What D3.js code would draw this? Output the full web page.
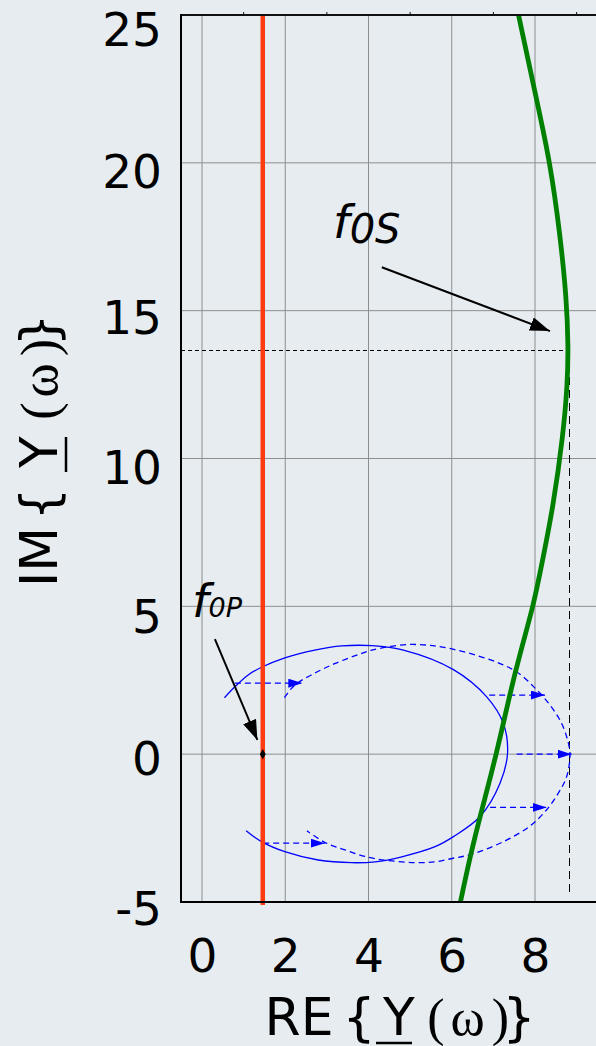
<!DOCTYPE html>
<html><head><meta charset="utf-8">
<script src="https://cdn.jsdelivr.net/npm/d3@7"></script>
<style>html,body{margin:0;padding:0;background:#e6ecef;}svg{display:block}</style>
</head><body><svg id="c" width="596" height="1046"></svg>
<script>
// ---- data ----
const xTicks = [0, 2, 4, 6, 8];
const xMinorTicks = [1, 3, 5, 7, 9];
const yTicks = [-5, 0, 5, 10, 15, 20, 25];
const redRe = 1.46;                       // parallel resonance line Re{Y}
const greenIm = [25.03, 22.12, 20.04, 17.62, 15.37, 13.78, 12.54, 10.85, 8.37, 6.12, 5.02, 3.41, 2.06, 0.03, -2.11, -3.47, -4.99];
const greenRe = [7.60, 8.04, 8.36, 8.60, 8.76, 8.80, 8.78, 8.68, 8.44, 8.12, 7.96, 7.64, 7.40, 7.08, 6.68, 6.44, 6.21];
const solidRe = [0.54, 0.79, 1.11, 1.43, 1.99, 2.71, 3.36, 4.08, 4.84, 6.04, 6.84, 7.24, 7.34, 7.16, 6.68, 6.04, 5.60, 4.80, 4.16, 3.60, 2.79, 1.99, 1.43, 1.06];
const solidIm = [1.91, 2.28, 2.68, 2.94, 3.26, 3.52, 3.66, 3.67, 3.52, 2.86, 1.94, 1.04, 0.03, -0.98, -2.11, -2.79, -3.13, -3.47, -3.64, -3.67, -3.58, -3.30, -2.96, -2.59];
const dashRe = [1.98, 2.23, 2.71, 3.20, 3.84, 4.08, 5.00, 6.03, 7.47, 8.04, 8.36, 8.60, 8.76, 8.84, 8.76, 8.56, 8.28, 7.88, 7.24, 6.44, 6.03, 5.60, 5.12, 4.56, 4.00, 3.44, 2.96, 2.52];
const dashIm = [1.91, 2.34, 2.74, 3.07, 3.41, 3.52, 3.71, 3.55, 2.86, 2.18, 1.66, 1.15, 0.59, 0.00, -0.76, -1.32, -1.88, -2.43, -2.96, -3.40, -3.52, -3.64, -3.67, -3.61, -3.49, -3.24, -2.99, -2.59];
const shiftIm = [2.40, 2.00, 0.00, -1.80, -3.01];
const shiftFromRe = [0.79, 6.90, 7.56, 6.92, 1.47];
const shiftToRe = [2.41, 8.24, 8.88, 8.28, 2.95];
const f0S = {re: 8.82, im: 13.65, bottom: -4.72};
const f0SArrow = {re0: 4.32, im0: 16.47, re1: 8.36, im1: 14.31};
const f0PArrow = {re0: 0.31, im0: 3.89, re1: 1.33, im1: 0.48};
const f0SLabel = {re: 3.15, im: 17.46};
const f0PLabel = {re: -0.24, im: 4.65};

// ---- style: vertical nudge (px) of y tick labels, as in the original ----
const yLabelNudge = {'-5': 6, '0': 3.5, '5': 10, '10': 8, '15': 6, '20': 8.5, '25': 13.5};

// ---- setup ----
const svg = d3.select('#c');
const x = d3.scaleLinear().domain([0, 8]).range([202, 535]);
const y = d3.scaleLinear().domain([-5, 25]).range([902, 15]);
const plotL = 181, plotR = 596, plotT = y(25), plotB = y(-5);
const SANS = 'DejaVu Sans, Verdana, sans-serif';
const SERIF = 'Liberation Serif, Times New Roman, serif';

svg.append('rect').attr('width', 596).attr('height', 1046).attr('fill', '#e6ecef');

const defs = svg.append('defs');
defs.append('clipPath').attr('id', 'clip').append('rect')
  .attr('x', plotL).attr('y', plotT).attr('width', plotR - plotL + 20).attr('height', plotB - plotT + 4);
defs.append('marker').attr('id', 'blueHead').attr('viewBox', '0 0 14 9')
  .attr('refX', 14).attr('refY', 4.5).attr('markerWidth', 14).attr('markerHeight', 9)
  .attr('markerUnits', 'userSpaceOnUse').attr('orient', 'auto')
  .append('path').attr('d', 'M0,0L14,4.5L0,9Z').attr('fill', '#0000ff');
defs.append('marker').attr('id', 'blackHead').attr('viewBox', '0 0 20 14')
  .attr('refX', 20).attr('refY', 7).attr('markerWidth', 20).attr('markerHeight', 14)
  .attr('markerUnits', 'userSpaceOnUse').attr('orient', 'auto')
  .append('path').attr('d', 'M0,0L20,7L0,14Z').attr('fill', '#000');

// ---- grid ----
const grid = svg.append('g');
grid.selectAll('.vg').data(xTicks).join('line')
  .attr('x1', d => x(d)).attr('x2', d => x(d)).attr('y1', plotT).attr('y2', plotB)
  .attr('stroke', '#8e8e8e').attr('stroke-width', 1);
grid.selectAll('.hg').data(yTicks.filter(d => d > -5 && d < 25)).join('line')
  .attr('x1', plotL).attr('x2', plotR).attr('y1', d => y(d)).attr('y2', d => y(d))
  .attr('stroke', '#8e8e8e').attr('stroke-width', 1);

const plot = svg.append('g').attr('clip-path', 'url(#clip)');

// dashed reference lines at f0S
plot.append('line').attr('x1', plotL).attr('x2', x(f0S.re)).attr('y1', y(f0S.im)).attr('y2', y(f0S.im))
  .attr('stroke', '#000').attr('stroke-width', 1).attr('stroke-dasharray', '4,3').attr('shape-rendering', 'crispEdges');
plot.append('line').attr('x1', x(f0S.re)).attr('x2', x(f0S.re)).attr('y1', y(f0S.im)).attr('y2', y(f0S.bottom))
  .attr('stroke', '#000').attr('stroke-width', 1).attr('stroke-dasharray', '8,5').attr('shape-rendering', 'crispEdges');

// blue locus curves
const blueLine = d3.line().x(d => x(d[0])).y(d => y(d[1])).curve(d3.curveCatmullRom.alpha(0.5));
plot.append('path').attr('d', blueLine(d3.zip(solidRe, solidIm)))
  .attr('fill', 'none').attr('stroke', '#0000ff').attr('stroke-width', 1.3);
plot.append('path').attr('d', blueLine(d3.zip(dashRe, dashIm)))
  .attr('fill', 'none').attr('stroke', '#0000ff').attr('stroke-width', 1.3).attr('stroke-dasharray', '6,4');
plot.selectAll('.shift').data(d3.range(shiftIm.length)).join('line')
  .attr('x1', i => x(shiftFromRe[i])).attr('x2', i => x(shiftToRe[i]))
  .attr('y1', i => y(shiftIm[i])).attr('y2', i => y(shiftIm[i]))
  .attr('stroke', '#0000ff').attr('stroke-width', 1.3).attr('stroke-dasharray', '6,4')
  .attr('marker-end', 'url(#blueHead)');

// red line
plot.append('line').attr('x1', x(redRe)).attr('x2', x(redRe)).attr('y1', y(25)).attr('y2', y(-5.1))
  .attr('stroke', '#ff3b0f').attr('stroke-width', 4.5);

// green curve
const greenLine = d3.line().x(d => x(d[0])).y(d => y(d[1])).curve(d3.curveBasis);
plot.append('path').attr('d', greenLine(d3.zip(greenRe, greenIm)))
  .attr('fill', 'none').attr('stroke', '#008000').attr('stroke-width', 4.8);

// diamond marker at f0P
svg.append('path').attr('d', d3.symbol(d3.symbolDiamond, 30)())
  .attr('transform', `translate(${x(redRe)},${y(0)})`).attr('fill', '#000');

// black annotation arrows
[f0SArrow, f0PArrow].forEach(a => {
  svg.append('line').attr('x1', x(a.re0)).attr('y1', y(a.im0)).attr('x2', x(a.re1)).attr('y2', y(a.im1))
    .attr('stroke', '#000').attr('stroke-width', 2).attr('marker-end', 'url(#blackHead)');
});

// annotation labels
const l1 = svg.append('text').attr('x', x(f0SLabel.re)).attr('y', y(f0SLabel.im))
  .attr('font-family', SANS).attr('font-style', 'italic').attr('fill', '#000');
l1.append('tspan').attr('font-size', 47).text('f');
l1.append('tspan').attr('font-size', 40).attr('dy', 5).text('0S');
const l2 = svg.append('text').attr('x', x(f0PLabel.re)).attr('y', y(f0PLabel.im))
  .attr('font-family', SANS).attr('font-style', 'italic').attr('fill', '#000');
l2.append('tspan').attr('font-size', 47).text('f');
l2.append('tspan').attr('font-size', 27).text('0P');

// ---- frame / axes ----
svg.append('line').attr('x1', plotL).attr('x2', plotR).attr('y1', plotT).attr('y2', plotT)
  .attr('stroke', '#111').attr('stroke-width', 2);
svg.selectAll('.mt').data(xMinorTicks).join('line')
  .attr('x1', d => x(d)).attr('x2', d => x(d)).attr('y1', plotT).attr('y2', plotT - 3)
  .attr('stroke', '#111').attr('stroke-width', 1);
svg.append('line').attr('x1', plotL).attr('x2', plotR).attr('y1', plotB).attr('y2', plotB)
  .attr('stroke', '#000').attr('stroke-width', 2);
svg.append('line').attr('x1', plotL).attr('x2', plotL).attr('y1', plotT - 1).attr('y2', plotB + 1)
  .attr('stroke', '#000').attr('stroke-width', 2);

const yAxis = svg.append('g').attr('transform', `translate(${plotL},0)`)
  .call(d3.axisLeft(y).tickValues(yTicks).tickSize(0).tickPadding(plotL - 162).tickFormat(d => String(d)));
yAxis.select('.domain').remove();
yAxis.selectAll('text').attr('font-family', SANS).attr('font-size', 47).attr('fill', '#000')
  .attr('dy', null).attr('dominant-baseline', 'central')
  .attr('y', d => yLabelNudge[String(d)] || 0);

const xAxis = svg.append('g').attr('transform', `translate(0,${plotB})`)
  .call(d3.axisBottom(x).tickValues(xTicks).tickSize(0).tickFormat(d => String(d)));
xAxis.select('.domain').remove();
xAxis.selectAll('text').attr('font-family', SANS).attr('font-size', 47).attr('fill', '#000')
  .attr('y', 972 - plotB).attr('dy', 0);

// ---- axis titles ----
function title(g, first, centers, base) {
  const pieces = [[first, SANS, 52], ['{', SANS, 52], ['Y', SANS, 52], ['(', SERIF, 52], ['\u03C9', SERIF, 52], [')', SERIF, 52], ['}', SANS, 52]];
  pieces.forEach((p, i) => {
    g.append('text').attr('x', centers[i]).attr('y', base).attr('text-anchor', 'middle')
      .attr('font-family', p[1]).attr('font-size', p[2]).attr('fill', '#000').text(p[0]);
  });
}
const xt = svg.append('g');
title(xt, 'RE', [299, 359, 399, 436, 467.5, 500.5, 519], 1035);
xt.append('line').attr('x1', 376).attr('x2', 412).attr('y1', 1043).attr('y2', 1043).attr('stroke', '#000').attr('stroke-width', 2.5);

const yt = svg.append('g').attr('transform', 'rotate(-90)');
title(yt, 'IM', [-557, -504, -452, -411, -380.5, -347.5, -330], 57);
yt.append('line').attr('x1', -472).attr('x2', -437).attr('y1', 66).attr('y2', 66).attr('stroke', '#000').attr('stroke-width', 2.5);
</script></body></html>
